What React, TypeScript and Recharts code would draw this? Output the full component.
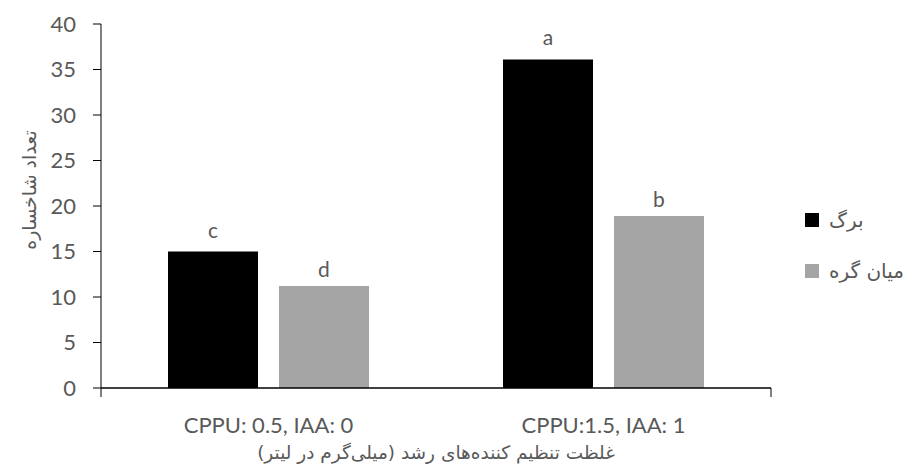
import { BarChart, Bar, XAxis, YAxis, Legend, LabelList, Label } from "recharts";

const categories = ["CPPU: 0.5, IAA: 0", "CPPU:1.5, IAA: 1"];
const leafValues = [15, 36.1];
const internodeValues = [11.2, 18.9];
const leafLetters = ["c", "a"];
const internodeLetters = ["d", "b"];
const seriesNames = ["برگ", "میان گره"];
const seriesColors = ["#000000", "#a5a5a5"];
const yTicks = [0, 5, 10, 15, 20, 25, 30, 35, 40];
const edgeTicks = [0, 1, 2];

const yTitle = "تعداد شاخساره";
const xTitle = "غلظت تنظیم کننده‌های رشد (میلی‌گرم در لیتر)";

const FONT = "Lato, 'DejaVu Sans', sans-serif";
const FA_FONT = "'DejaVu Sans', sans-serif";
const TEXT = "#595959";

const data = categories.map((name, i) => ({
  name,
  leaf: leafValues[i],
  internode: internodeValues[i],
  leafLetter: leafLetters[i],
  internodeLetter: internodeLetters[i],
}));

const LegendBox = ({ payload }: any) => (
  <div style={{ fontFamily: FA_FONT, fontSize: 20, color: TEXT }}>
    {(payload || []).map((p: any, i: number) => (
      <div key={i} style={{ display: "flex", alignItems: "center", height: 51 }}>
        <span style={{ width: 14, height: 14, background: p.color, marginRight: 10, display: "inline-block" }} />
        <span>{p.value}</span>
      </div>
    ))}
  </div>
);

export default function App() {
  return (
    <div style={{ position: "absolute", left: 0, top: 0 }}>
      <BarChart
        width={911}
        height={470}
        data={data}
        margin={{ top: 24, right: 140, bottom: 1, left: 51 }}
        barCategoryGap="20%"
        barGap={21}
      >
        {/* number axis only draws the baseline and the ticks between the groups */}
        <XAxis
          xAxisId="a-edge"
          type="number"
          domain={[0, 2]}
          ticks={edgeTicks}
          allowDataOverflow
          height={1}
          tickSize={9}
          tickFormatter={() => ""}
          axisLine={{ stroke: "#000", strokeWidth: 1.5 }}
          tickLine={{ stroke: "#000" }}
        />
        <XAxis
          xAxisId="b-cat"
          dataKey="name"
          height={80}
          axisLine={false}
          tickLine={false}
          tickSize={0}
          tickMargin={28}
          tick={{ fill: TEXT, fontSize: 22, fontFamily: FONT }}
        >
          <Label
            content={({ viewBox }: any) => (
              <text
                x={viewBox.x + viewBox.width / 2}
                y={viewBox.y + 70}
                textAnchor="middle"
                direction="rtl"
                fill={TEXT}
                fontSize={18.5}
                fontFamily={FA_FONT}
              >
                {xTitle}
              </text>
            )}
          />
        </XAxis>
        <YAxis
          domain={[0, 40]}
          ticks={yTicks}
          width={50}
          tickSize={8}
          tickMargin={17}
          axisLine={{ stroke: "#000" }}
          tickLine={{ stroke: "#000" }}
          tick={{ fill: TEXT, fontSize: 22, fontFamily: FONT }}
        >
          <Label
            content={({ viewBox }: any) => {
              const cx = viewBox.x - 22;
              const cy = viewBox.y + viewBox.height / 2 - 16;
              return (
                <text
                  x={cx}
                  y={cy}
                  textAnchor="middle"
                  dominantBaseline="central"
                  direction="rtl"
                  transform={`rotate(-90 ${cx} ${cy})`}
                  fill={TEXT}
                  fontSize={19}
                  fontFamily={FA_FONT}
                >
                  {yTitle}
                </text>
              );
            }}
          />
        </YAxis>
        <Legend
          layout="vertical"
          align="center"
          verticalAlign="middle"
          wrapperStyle={{ left: 805, top: 194, width: 106 }}
          content={<LegendBox />}
        />
        <Bar xAxisId="b-cat" dataKey="leaf" name={seriesNames[0]} fill={seriesColors[0]} isAnimationActive={false}>
          <LabelList dataKey="leafLetter" position="top" offset={14} fill={TEXT} fontSize={21} fontFamily={FONT} />
        </Bar>
        <Bar xAxisId="b-cat" dataKey="internode" name={seriesNames[1]} fill={seriesColors[1]} isAnimationActive={false}>
          <LabelList dataKey="internodeLetter" position="top" offset={9} fill={TEXT} fontSize={21} fontFamily={FONT} />
        </Bar>
      </BarChart>
    </div>
  );
}
